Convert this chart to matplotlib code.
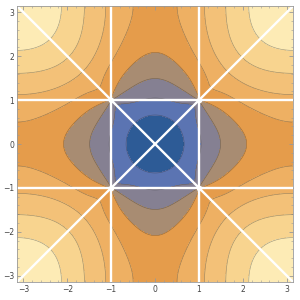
import numpy as np
import matplotlib
matplotlib.use("Agg")
import matplotlib.pyplot as plt

# weights of the surface terms, matched to contour crossings
# terms: -cos x - cos y, cos x cos y, sin^2 x sin^2 y, sqrt(2 - cos x - cos y), corner kink, constant
WEIGHTS = [0.300, 0.535, 0.461, 4.317, 0.963, -0.857]
KINK_WIDTH = 0.45
KINK_POINTS_X = [-1, 1, -1, 1]
KINK_POINTS_Y = [-1, -1, 1, 1]

# contour levels and band colours (lowest band first)
LEVELS = [1, 2, 3, 4, 5, 6, 7, 8]
BAND_COLORS = [
    '#2d5b96',
    '#5b74b2',
    '#858092',
    '#a88c72',
    '#e59c4b',
    '#eeb063',
    '#f3c178',
    '#f8d48f',
    '#fdebb5',
]
TICKS = [-3, -2, -1, 0, 1, 2, 3]
GAP_X = [-1, 1]
GAP_Y = [-1, 1]


def surface(x, y):
    cx, cy = np.cos(x), np.cos(y)
    kink = np.zeros_like(x)
    for sx, sy in zip(KINK_POINTS_X, KINK_POINTS_Y):
        dx, dy = x - sx, y - sy
        d = np.hypot(dx, dy)
        with np.errstate(invalid='ignore', divide='ignore'):
            c = (dx * sx + dy * sy) / (np.sqrt(2) * d)
        kink = kink + np.nan_to_num(c) * np.exp(-(d / KINK_WIDTH) ** 2)
    terms = [-cx - cy, cx * cy, np.sin(x) ** 2 * np.sin(y) ** 2,
             np.sqrt(np.maximum(2 - cx - cy, 0)), kink, np.ones_like(x)]
    return sum(w * t for w, t in zip(WEIGHTS, terms))


xs = np.linspace(-np.pi, np.pi, 801)
X, Y = np.meshgrid(xs, xs)
Z = surface(X, Y)

fig = plt.figure(figsize=(3, 3), dpi=100)
ax = fig.add_axes([0.057, 0.06, 0.92, 0.92])

ax.contourf(X, Y, Z, levels=[-100] + LEVELS + [100], colors=BAND_COLORS)
ax.contour(X, Y, Z, levels=LEVELS, colors='#333333', linewidths=0.45, alpha=0.45)

# exclusion gaps
for v in GAP_X:
    ax.axvline(v, color='white', lw=1.7)
for v in GAP_Y:
    ax.axhline(v, color='white', lw=1.7)
ax.plot([-np.pi, np.pi], [-np.pi, np.pi], color='white', lw=1.7)
ax.plot([-np.pi, np.pi], [np.pi, -np.pi], color='white', lw=1.7)
ax.scatter(KINK_POINTS_X, KINK_POINTS_Y, s=16, color='white', lw=0, zorder=5)

ax.set_xlim(-np.pi, np.pi)
ax.set_ylim(-np.pi, np.pi)
ax.set_xticks(TICKS)
ax.set_yticks(TICKS)
minor = np.arange(-3.0, 3.01, 0.2)
ax.set_xticks(minor, minor=True)
ax.set_yticks(minor, minor=True)
ax.tick_params(which='both', direction='in', top=True, right=True,
               labelsize=5.5, labelcolor='#444444', color='#999999', pad=2)
ax.tick_params(which='major', length=3, width=0.6)
ax.tick_params(which='minor', length=1.5, width=0.4)
for sp in ax.spines.values():
    sp.set_color('#999999')
    sp.set_linewidth(0.6)

fig.savefig('out.png', dpi=100)
